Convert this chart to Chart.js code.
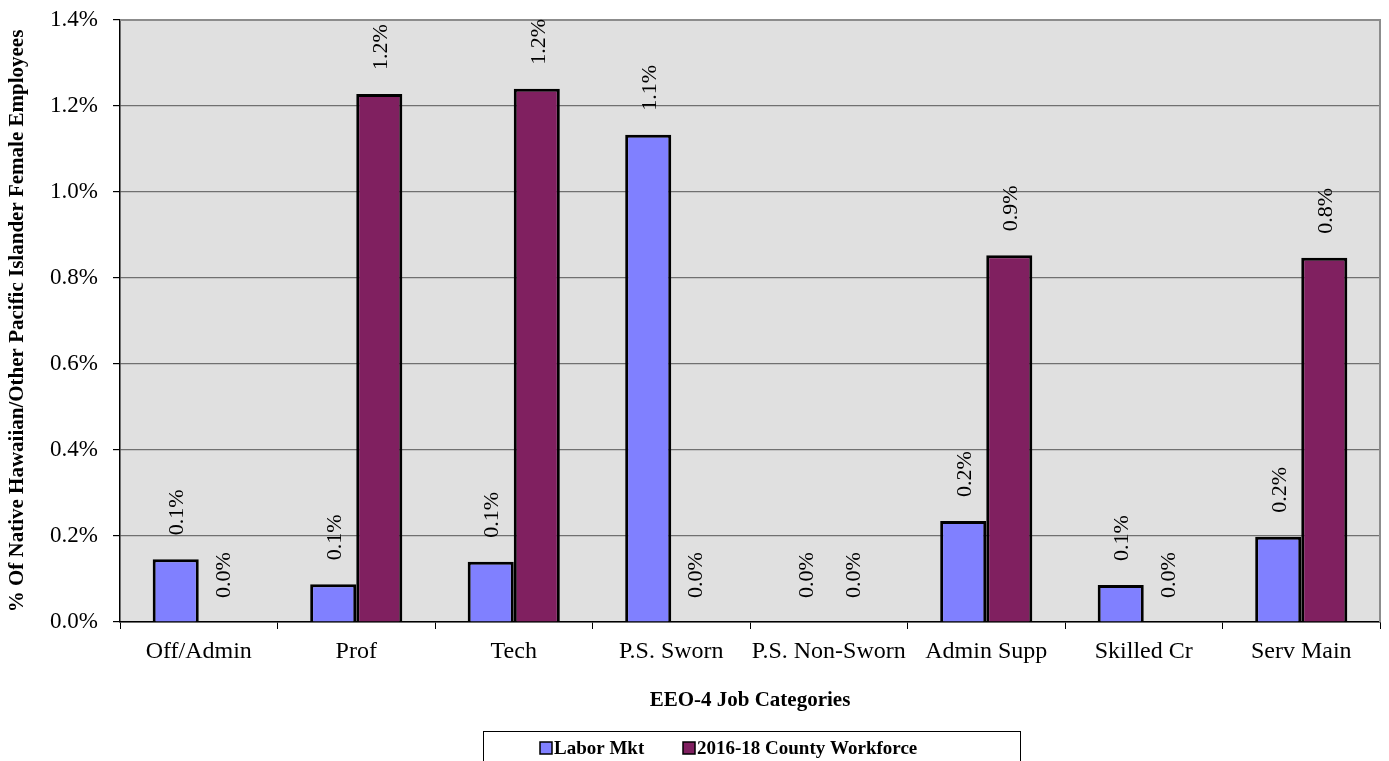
<!DOCTYPE html>
<html>
<head>
<meta charset="utf-8">
<script src="https://cdn.jsdelivr.net/npm/chart.js@4/dist/chart.umd.min.js"></script>
<style>
  html, body { margin: 0; padding: 0; background: #fff; }
  #wrap { width: 1389px; height: 761px; }
</style>
</head>
<body>
<div id="wrap"><canvas id="chart" width="1389" height="761"></canvas></div>
<script>
// chart data (values in %)
const categories = ['Off/Admin', 'Prof', 'Tech', 'P.S. Sworn', 'P.S. Non-Sworn', 'Admin Supp', 'Skilled Cr', 'Serv Main'];
const laborMkt = [0.146, 0.088, 0.140, 1.133, 0.0, 0.235, 0.086, 0.198];
const countyWorkforce = [0.0, 1.228, 1.240, 0.0, 0.0, 0.853, 0.0, 0.847];
const seriesNames = ['Labor Mkt', '2016-18 County Workforce'];
const yTicks = [0, 0.2, 0.4, 0.6, 0.8, 1.0, 1.2, 1.4];

const serif = "'Liberation Serif', 'Times New Roman', serif";

// gray plot area + gray frame at top/right
const plotFrame = {
    id: 'plotFrame',
    beforeDraw(chart) {
        const { ctx, chartArea: a } = chart;
        ctx.save();
        ctx.fillStyle = '#e0e0e0';
        ctx.fillRect(a.left, a.top, a.right - a.left, a.bottom - a.top);
        ctx.restore();
    },
    afterDatasetsDraw(chart) {
        const { ctx, chartArea: a } = chart;
        ctx.save();
        ctx.strokeStyle = '#8c8c8c';
        ctx.lineWidth = 2;
        ctx.beginPath();
        ctx.moveTo(a.left, a.top);
        ctx.lineTo(a.right, a.top);
        ctx.lineTo(a.right, a.bottom);
        ctx.stroke();
        ctx.restore();
    }
};

// vertical value labels above each bar
const barLabels = {
    id: 'barLabels',
    afterDatasetsDraw(chart) {
        const { ctx } = chart;
        ctx.save();
        ctx.font = '22px ' + serif;
        ctx.fillStyle = '#000';
        ctx.textAlign = 'left';
        ctx.textBaseline = 'middle';
        chart.data.datasets.forEach((ds, i) => {
            chart.getDatasetMeta(i).data.forEach((bar, j) => {
                ctx.save();
                ctx.translate(bar.x + 2, bar.y - 24);
                ctx.rotate(-Math.PI / 2);
                ctx.fillText(ds.data[j].toFixed(1) + '%', 0, 0);
                ctx.restore();
            });
        });
        ctx.restore();
    }
};

// boxed legend at the bottom
const boxLegend = {
    id: 'boxLegend',
    afterDraw(chart) {
        const { ctx } = chart;
        ctx.save();
        ctx.strokeStyle = '#000';
        ctx.lineWidth = 1;
        ctx.strokeRect(483.5, 731.5, 537, 40);
        ctx.font = 'bold 19px ' + serif;
        ctx.textBaseline = 'middle';
        ctx.textAlign = 'left';
        const xs = [540, 683];
        chart.data.datasets.forEach((ds, i) => {
            ctx.fillStyle = ds.backgroundColor;
            ctx.fillRect(xs[i], 742, 12, 12);
            ctx.strokeStyle = '#000';
            ctx.lineWidth = 1.5;
            ctx.strokeRect(xs[i], 742, 12, 12);
            ctx.fillStyle = '#000';
            ctx.fillText(ds.label, xs[i] + 14, 749);
        });
        ctx.restore();
    }
};

new Chart(document.getElementById('chart'), {
    type: 'bar',
    data: {
        labels: categories,
        datasets: [
            {
                label: seriesNames[0],
                data: laborMkt,
                backgroundColor: '#8080ff',
                borderColor: '#000',
                borderWidth: 3,
                borderSkipped: 'bottom'
            },
            {
                label: seriesNames[1],
                data: countyWorkforce,
                backgroundColor: '#802060',
                borderColor: '#000',
                borderWidth: 3,
                borderSkipped: 'bottom'
            }
        ]
    },
    options: {
        responsive: false,
        animation: false,
        devicePixelRatio: 1,
        layout: { padding: { left: 0, right: 9, top: 20, bottom: 48 } },
        datasets: { bar: { barPercentage: 1.0, categoryPercentage: 0.585 } },
        plugins: {
            legend: { display: false },
            tooltip: { enabled: false }
        },
        scales: {
            x: {
                afterFit(scale) { scale.height = 91; },
                grid: {
                    offset: true,
                    drawOnChartArea: false,
                    color: '#000',
                    tickLength: 7,
                    tickColor: '#000'
                },
                border: { color: '#000', width: 1.5 },
                ticks: {
                    color: '#000',
                    padding: 8,
                    maxRotation: 0,
                    autoSkip: false,
                    font: { family: serif, size: 24 }
                },
                title: {
                    display: true,
                    text: 'EEO-4 Job Categories',
                    color: '#000',
                    font: { family: serif, size: 21, weight: 'bold' },
                    padding: { top: 0, bottom: 0 }
                }
            },
            y: {
                min: 0,
                max: 1.4,
                afterFit(scale) {
                    scale.width = 120;
                    scale.paddingTop = 0;
                    scale.paddingBottom = 0;
                },
                afterBuildTicks(scale) { scale.ticks = yTicks.map(v => ({ value: v })); },
                grid: {
                    color: '#707070',
                    lineWidth: 1.2,
                    tickLength: 7,
                    tickColor: '#000'
                },
                border: { color: '#000', width: 1.5 },
                ticks: {
                    color: '#000',
                    padding: 15,
                    font: { family: serif, size: 23 },
                    callback: v => v.toFixed(1) + '%'
                },
                title: {
                    display: true,
                    text: '% Of Native Hawaiian/Other Pacific Islander Female Employees',
                    color: '#000',
                    font: { family: serif, size: 21, weight: 'bold' },
                    padding: { top: 5, bottom: 0 }
                }
            }
        }
    },
    plugins: [plotFrame, barLabels, boxLegend]
});
</script>
</body>
</html>
